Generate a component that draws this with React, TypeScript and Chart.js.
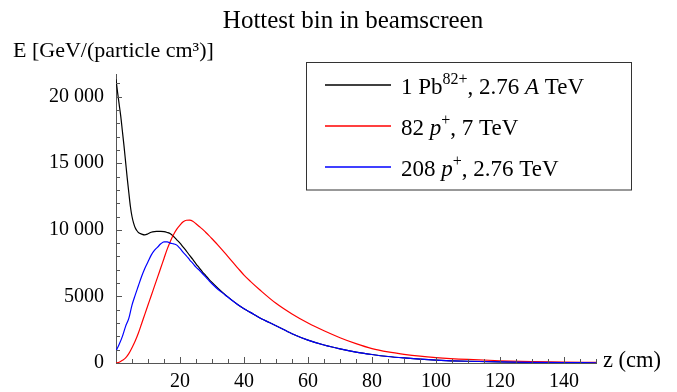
import React, { useEffect, useRef } from "react";
import { Chart, registerables } from "chart.js";

Chart.register(...registerables);

const TITLE = "Hottest bin in beamscreen";
const Y_LABEL = "E [GeV/(particle cm³)]";
const X_LABEL = "z (cm)";

const Y_TICKS = [0, 5000, 10000, 15000, 20000];
const X_TICKS = [20, 40, 60, 80, 100, 120, 140];

const zPb = [0, 0.5, 1, 1.5, 2, 2.5, 3, 3.5, 4, 4.5, 5, 5.5, 6, 6.5, 7, 8, 9, 10, 11, 12, 13, 14, 15, 16, 17, 18, 19, 20, 21, 22, 23, 24, 25, 26, 27, 28, 29, 30, 32, 34, 36, 38, 40, 42, 45, 50, 55, 60, 65, 70, 75, 80, 85, 90, 95, 100, 110, 120, 130, 140, 150];
const ePb = [21300, 20300, 19400, 18500, 17400, 16300, 15100, 13900, 12800, 11750, 11000, 10500, 10150, 9950, 9800, 9680, 9620, 9700, 9820, 9870, 9880, 9890, 9870, 9800, 9700, 9500, 9250, 9000, 8700, 8400, 8080, 7780, 7450, 7150, 6850, 6580, 6300, 6050, 5580, 5150, 4760, 4400, 4080, 3800, 3380, 2800, 2200, 1720, 1350, 1060, 820, 640, 490, 380, 290, 220, 130, 80, 50, 30, 20];

const zP7 = [0, 1, 2, 3, 4, 5, 6, 7, 8, 9, 10, 11, 12, 13, 14, 15, 16, 17, 18, 19, 20, 21, 22, 23, 24, 25, 26, 27, 28, 29, 30, 32, 34, 36, 38, 40, 42, 45, 50, 55, 60, 65, 70, 75, 80, 85, 90, 95, 100, 110, 120, 130, 140, 150];
const eP7 = [0, 60, 200, 380, 700, 1150, 1650, 2250, 2950, 3650, 4350, 5050, 5750, 6450, 7150, 7850, 8550, 9150, 9650, 10050, 10350, 10600, 10720, 10730, 10650, 10450, 10250, 10050, 9820, 9580, 9330, 8820, 8270, 7700, 7150, 6600, 6130, 5480, 4480, 3680, 3000, 2420, 1900, 1450, 1080, 830, 650, 510, 410, 270, 170, 110, 70, 50];

const zP276 = [0, 1, 2, 3, 4, 5, 6, 7, 8, 9, 10, 11, 12, 13, 14, 15, 16, 17, 18, 19, 20, 21, 22, 23, 24, 25, 26, 27, 28, 29, 30, 32, 34, 36, 38, 40, 42, 45, 50, 55, 60, 65, 70, 75, 80, 85, 90, 95, 100, 110, 120, 130, 140, 150];
const eP276 = [900, 1400, 2000, 2750, 3350, 4350, 5100, 5800, 6500, 7100, 7600, 8100, 8450, 8700, 8950, 9100, 9100, 9000, 8950, 8850, 8600, 8300, 8050, 7750, 7480, 7200, 6980, 6720, 6460, 6200, 5950, 5500, 5130, 4750, 4400, 4080, 3800, 3380, 2800, 2200, 1720, 1350, 1060, 820, 640, 490, 380, 290, 220, 130, 80, 50, 30, 20];

const FONT = "'Liberation Serif', 'DejaVu Serif', serif";

type Seg = { t: string; italic?: boolean; sup?: boolean };
const LEGEND: { color: string; segs: Seg[] }[] = [
  { color: "#000000", segs: [{ t: "1 Pb" }, { t: "82+", sup: true }, { t: ", 2.76 " }, { t: "A", italic: true }, { t: " TeV" }] },
  { color: "#ff0000", segs: [{ t: "82 " }, { t: "p", italic: true }, { t: "+", sup: true }, { t: ", 7 TeV" }] },
  { color: "#0000ff", segs: [{ t: "208 " }, { t: "p", italic: true }, { t: "+", sup: true }, { t: ", 2.76 TeV" }] },
];

function fmt(v: number): string {
  if (v >= 10000) {
    const s = String(v);
    return s.slice(0, s.length - 3) + " " + s.slice(s.length - 3);
  }
  return String(v);
}

const toXY = (xs: number[], ys: number[]) => xs.map((x, i) => ({ x, y: ys[i] }));

const decorPlugin = {
  id: "decor",
  afterDraw(chart: any) {
    const ctx = chart.ctx as CanvasRenderingContext2D;
    const xs = chart.scales.x;
    const ys = chart.scales.y;
    const area = chart.chartArea;
    ctx.save();
    // inward ticks
    ctx.strokeStyle = "#555";
    ctx.lineWidth = 1;
    ctx.beginPath();
    for (let v = 0; v <= 21000; v += 1000) {
      const y = Math.round(ys.getPixelForValue(v)) + 0.5;
      const len = v % 5000 === 0 ? 6 : 4;
      ctx.moveTo(area.left, y);
      ctx.lineTo(area.left + len, y);
    }
    for (let v = 5; v <= 150; v += 5) {
      const x = Math.round(xs.getPixelForValue(v)) + 0.5;
      const len = v % 20 === 0 ? 6 : 4;
      ctx.moveTo(x, area.bottom);
      ctx.lineTo(x, area.bottom - len);
    }
    ctx.stroke();

    // texts
    ctx.fillStyle = "#000";
    ctx.textBaseline = "alphabetic";
    ctx.font = `25px ${FONT}`;
    ctx.textAlign = "center";
    ctx.fillText(TITLE, 353, 28);
    ctx.textAlign = "left";
    ctx.font = `22px ${FONT}`;
    ctx.fillText(Y_LABEL, 13, 57);
    ctx.font = `22.5px ${FONT}`;
    ctx.fillText(X_LABEL, 603, 367);

    // legend
    const bx = 306.5, by = 62.5, bw = 325, bh = 127.5;
    ctx.fillStyle = "#fff";
    ctx.fillRect(bx, by, bw, bh);
    ctx.strokeStyle = "#333";
    ctx.lineWidth = 1;
    ctx.strokeRect(bx, by, bw, bh);
    const rowY = [85, 126, 167];
    LEGEND.forEach((item, i) => {
      const ly = rowY[i];
      ctx.strokeStyle = item.color;
      ctx.lineWidth = 1.4;
      ctx.beginPath();
      ctx.moveTo(325, ly);
      ctx.lineTo(391, ly);
      ctx.stroke();
      let x = 401;
      const base = rowY[i] + 9;
      ctx.fillStyle = "#000";
      item.segs.forEach((s) => {
        const size = s.sup ? 16 : 23;
        ctx.font = `${s.italic ? "italic " : ""}${size}px ${FONT}`;
        const yy = s.sup ? base - 10 : base;
        ctx.fillText(s.t, x, yy);
        x += ctx.measureText(s.t).width;
      });
    });
    ctx.restore();
  },
};

export default function App() {
  const ref = useRef<HTMLCanvasElement | null>(null);
  useEffect(() => {
    if (!ref.current) return;
    const chart = new Chart(ref.current, {
      type: "line",
      data: {
        datasets: [
          { label: "Pb", data: toXY(zPb, ePb), borderColor: "#000000", borderWidth: 1.2, pointRadius: 0, cubicInterpolationMode: "monotone", order: 2 },
          { label: "p7", data: toXY(zP7, eP7), borderColor: "#ff0000", borderWidth: 1.2, pointRadius: 0, cubicInterpolationMode: "monotone", order: 1 },
          { label: "p276", data: toXY(zP276, eP276), borderColor: "#0000ff", borderWidth: 1.2, pointRadius: 0, cubicInterpolationMode: "monotone", order: 0 },
        ],
      },
      options: {
        animation: false,
        responsive: false,
        layout: { padding: { top: 74, right: 81, left: 0, bottom: 0 } },
        plugins: { legend: { display: false }, tooltip: { enabled: false }, title: { display: false } },
        scales: {
          x: {
            type: "linear",
            min: 0,
            max: 150,
            grid: { display: false, drawTicks: false },
            border: { display: true, color: "#555", width: 1 },
            ticks: { color: "#000", font: { family: FONT, size: 20 }, padding: 7, maxRotation: 0, callback: (v: any) => String(v) },
            afterBuildTicks: (s: any) => { s.ticks = X_TICKS.map((v) => ({ value: v })); },
            afterFit: (s: any) => { s.height = 29; },
          },
          y: {
            type: "linear",
            min: 0,
            max: 21700,
            grid: { display: false, drawTicks: false },
            border: { display: true, color: "#555", width: 1 },
            ticks: { color: "#000", font: { family: FONT, size: 20 }, padding: 12, callback: (v: any) => fmt(Number(v)) },
            afterBuildTicks: (s: any) => { s.ticks = Y_TICKS.map((v) => ({ value: v })); },
            afterFit: (s: any) => { s.width = 116; },
          },
        },
      },
      plugins: [decorPlugin],
    } as any);
    return () => chart.destroy();
  }, []);
  return (
    <div style={{ position: "absolute", left: 0, top: 0, width: 677, height: 392, background: "#fff" }}>
      <canvas ref={ref} width={677} height={392} style={{ display: "block" }} />
    </div>
  );
}
